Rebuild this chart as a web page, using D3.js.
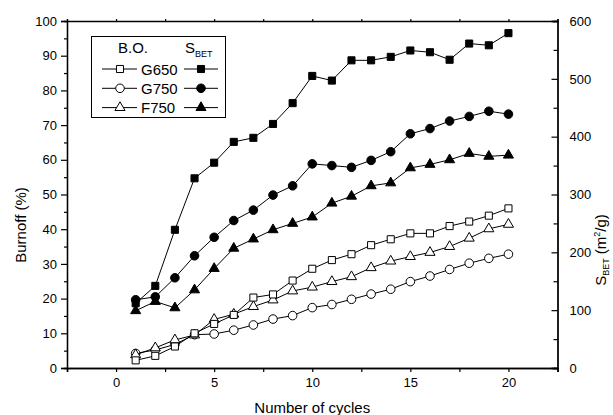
<!DOCTYPE html>
<html>
<head>
<meta charset="utf-8">
<script src="https://cdn.jsdelivr.net/npm/d3@7"></script>
<style>
body { margin: 0; background: #fff; }
svg { font-family: "Liberation Sans", Arial, sans-serif; }
</style>
</head>
<body>
<svg></svg>
<script>
var width = 613;
var height = 415;
var plotLeft = 67, plotRight = 557.5, plotTop = 21, plotBottom = 368;

var cycles = [1, 2, 3, 4, 5, 6, 7, 8, 9, 10, 11, 12, 13, 14, 15, 16, 17, 18, 19, 20];

// burnoff (%) - left axis, open markers
var boG650 = [2.2, 3.5, 6.2, 10.0, 12.7, 15.3, 20.3, 21.2, 25.2, 28.6, 31.1, 32.8, 35.4, 37.1, 38.8, 38.8, 40.9, 42.2, 43.9, 46.0];
var boG750 = [4.2, 5.2, 6.8, 9.6, 9.8, 10.9, 12.4, 14.1, 15.1, 17.4, 18.3, 19.8, 21.3, 22.7, 24.9, 26.5, 28.4, 30.2, 31.6, 32.8];
var boF750 = [3.8, 5.8, 8.1, 9.5, 14.0, 15.5, 17.7, 19.6, 22.2, 23.3, 24.9, 26.3, 28.9, 30.8, 32.1, 33.3, 35.0, 37.4, 40.1, 41.4];

// S_BET (m2/g) - right axis, filled markers
var sbG650 = [112, 142, 239, 328, 355, 391, 398, 422, 458, 505, 497, 532, 532, 538, 549, 546, 533, 561, 558, 579];
var sbG750 = [118, 123, 156, 194, 226, 255, 273, 299, 315, 353, 350, 347, 359, 374, 405, 414, 427, 435, 444, 439];
var sbF750 = [99, 115, 104, 135, 172, 207, 223, 239, 250, 261, 285, 297, 315, 320, 346, 352, 360, 371, 366, 368];

var samples = ['G650', 'G750', 'F750'];
var shapes = [d3.symbolSquare, d3.symbolCircle, d3.symbolTriangle];
var xTicks = [0, 5, 10, 15, 20];
var leftTicks = [0, 10, 20, 30, 40, 50, 60, 70, 80, 90, 100];
var rightTicks = [0, 100, 200, 300, 400, 500, 600];

var svg = d3.select('svg').attr('width', width).attr('height', height);

var xScale = d3.scaleLinear().domain([-2.5, 22.5]).range([plotLeft, plotRight]);
var yLeft = d3.scaleLinear().domain([0, 100]).range([plotBottom, plotTop]);
var yRight = d3.scaleLinear().domain([0, 600]).range([plotBottom, plotTop]);

var sizes = [50, 58, 44];

function drawSeries(vals, scale, idx, filled){
    var pts = cycles.map((c, i) => [xScale(c), scale(vals[i])]);
    svg.append('path')
        .attr('d', d3.line()(pts))
        .attr('fill', 'none')
        .attr('stroke', '#000')
        .attr('stroke-width', 1);
    svg.append('g').selectAll('path')
        .data(pts)
        .enter()
        .append('path')
            .attr('transform', d => 'translate(' + d[0] + ',' + d[1] + ')')
            .attr('d', d3.symbol().type(shapes[idx]).size(sizes[idx]))
            .attr('fill', filled ? '#000' : '#fff')
            .attr('stroke', '#000')
            .attr('stroke-width', 1);
}

drawSeries(sbG650, yRight, 0, true);
drawSeries(sbG750, yRight, 1, true);
drawSeries(sbF750, yRight, 2, true);
drawSeries(boG750, yLeft, 1, false);
drawSeries(boF750, yLeft, 2, false);
drawSeries(boG650, yLeft, 0, false);

// axes
var minorX = d3.range(-2.5, 22.6, 2.5);

var xAxis = d3.axisBottom(xScale).tickValues(xTicks).tickSize(4).tickPadding(6).tickFormat(d3.format('d'));
svg.append('g').attr('transform', 'translate(0,' + plotBottom + ')').call(xAxis);
svg.append('g').attr('transform', 'translate(0,' + plotBottom + ')')
    .call(d3.axisBottom(xScale).tickValues(minorX.filter(d => d % 5 !== 0)).tickSize(4).tickFormat(''));

svg.append('g').attr('transform', 'translate(0,' + plotTop + ')')
    .call(d3.axisTop(xScale).tickValues(minorX).tickSize(2).tickFormat(''));

var yAxisL = d3.axisLeft(yLeft).tickValues(leftTicks).tickSize(6).tickPadding(4);
svg.append('g').attr('transform', 'translate(' + plotLeft + ',0)').call(yAxisL);
svg.append('g').attr('transform', 'translate(' + plotLeft + ',0)')
    .call(d3.axisLeft(yLeft).tickValues(d3.range(5, 100, 10)).tickSize(3).tickFormat(''));

var yAxisR = d3.axisRight(yRight).tickValues(rightTicks).tickSize(-6).tickPadding(12);
svg.append('g').attr('transform', 'translate(' + plotRight + ',0)').call(yAxisR);
svg.append('g').attr('transform', 'translate(' + plotRight + ',0)')
    .call(d3.axisRight(yRight).tickValues(d3.range(50, 600, 100)).tickSize(-4).tickFormat(''));

svg.selectAll('.domain').attr('stroke', '#000').attr('stroke-width', 1.3);
svg.selectAll('.tick line').attr('stroke', '#000').attr('stroke-width', 1.2);
svg.selectAll('.tick text')
    .attr('fill', '#000')
    .style('font-family', '"Liberation Sans", Arial, sans-serif')
    .style('font-size', '13px');

// axis labels
svg.append('text')
    .attr('x', xScale(10))
    .attr('y', 413)
    .style('text-anchor', 'middle')
    .style('font-size', '15px')
    .text('Number of cycles');

svg.append('text')
    .attr('transform', 'translate(26,225) rotate(-90)')
    .style('text-anchor', 'middle')
    .style('font-size', '15px')
    .text('Burnoff (%)');

var rl = svg.append('text')
    .attr('transform', 'translate(606,250) rotate(-90)')
    .style('text-anchor', 'middle')
    .style('font-size', '15px');
rl.append('tspan').text('S');
rl.append('tspan').attr('dy', 3).style('font-size', '9px').text('BET');
rl.append('tspan').attr('dy', -3).text(' (m');
rl.append('tspan').attr('dy', -6).style('font-size', '9px').text('2');
rl.append('tspan').attr('dy', 6).text('/g)');

// legend
var legend = svg.append('g');
legend.append('rect')
    .attr('x', 91.5).attr('y', 36.5)
    .attr('width', 134).attr('height', 81)
    .attr('fill', '#fff').attr('stroke', '#000').attr('stroke-width', 1);

legend.append('text').attr('x', 118).attr('y', 53).style('font-size', '15px').text('B.O.');
var sh = legend.append('text').attr('x', 185).attr('y', 53).style('font-size', '15px');
sh.append('tspan').text('S');
sh.append('tspan').attr('dy', 4).style('font-size', '9px').text('BET');

samples.forEach(function(name, i){
    var y = 69 + i * 19.3;
    legend.append('line').attr('x1', 102).attr('x2', 137).attr('y1', y).attr('y2', y)
        .attr('stroke', '#000').attr('stroke-width', 1);
    legend.append('path').attr('transform', 'translate(120,' + y + ')')
        .attr('d', d3.symbol().type(shapes[i]).size(sizes[i]))
        .attr('fill', '#fff').attr('stroke', '#000');
    legend.append('text').attr('x', 141).attr('y', y + 5.5).style('font-size', '15px').text(name);
    legend.append('line').attr('x1', 184).attr('x2', 218).attr('y1', y).attr('y2', y)
        .attr('stroke', '#000').attr('stroke-width', 1);
    legend.append('path').attr('transform', 'translate(201,' + y + ')')
        .attr('d', d3.symbol().type(shapes[i]).size(sizes[i]))
        .attr('fill', '#000').attr('stroke', '#000');
});
</script>
</body>
</html>
